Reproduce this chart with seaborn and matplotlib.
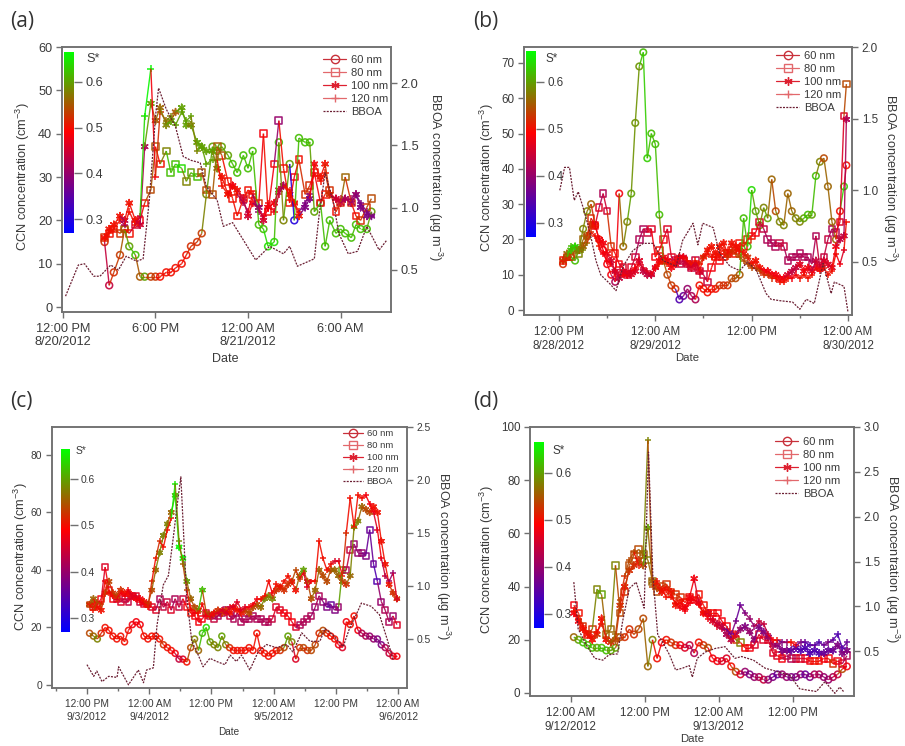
import pandas as pd
import matplotlib.pyplot as plt
import seaborn as sns
from matplotlib.cm import ScalarMappable
from matplotlib.collections import LineCollection
from matplotlib.colors import LinearSegmentedColormap, Normalize
from matplotlib.lines import Line2D

# ---------- panel (a), hours after 12:00 PM 8/20 ----------
hours_a = [2.7,3.0,3.3,3.7,4.0,4.3,4.7,5.0,5.3,5.7,
           6.0,6.3,6.7,7.0,7.3,7.7,8.0,8.3,8.7,9.0,
           9.3,9.7,10.0,10.3,10.7,11.0,11.3,11.7,12.0,12.3,
           12.7,13.0,13.3,13.7,14.0,14.3,14.7,15.0,15.3,15.7,
           16.0,16.3,16.7,17.0,17.3,17.7,18.0,18.3,18.7,19.0,
           19.3,19.7,20.0]
ccn60_a = [15,5,8,12,18,14,12,7,7,7,
           7,7,8,8,9,10,12,14,15,17,
           26,37,36,37,35,33,31,35,32,36,
           19,18,14,15,38,20,33,20,39,38,
           38,22,24,14,20,17,18,17,16,19,
           18,18,22]
s60_a = [52,44,52,53,55,60,62,55,60,53,
         53,50,50,50,50,50,50,52,52,53,
         58,60,60,60,60,62,62,62,62,62,
         62,62,64,64,62,58,60,30,62,62,
         62,60,62,62,62,62,62,62,62,62,
         62,62,60]
ccn80_a = [16,17,18,17,18,17,19,20,24,27,
           37,33,36,31,33,32,29,31,30,31,
           27,26,37,35,29,25,21,25,27,26,
           24,40,22,33,43,32,24,30,34,26,
           28,31,24,26,27,22,24,30,24,21,
           20,23,25]
s80_a = [52,50,50,52,55,50,45,48,50,54,
         55,50,58,62,62,64,58,60,62,55,
         54,54,55,55,50,50,50,50,50,50,
         52,48,50,48,40,50,50,48,50,52,
         52,50,48,50,52,50,52,56,52,50,
         52,52,54]
ccn100_a = [16,18,19,21,20,24,20,19,37,47,
            43,46,42,43,45,46,42,42,38,37,
            36,36,32,30,26,28,27,25,21,24,
            23,20,23,24,27,28,26,24,21,23,
            25,33,30,33,26,25,24,25,24,26,
            23,21,21]
s100_a = [50,50,50,50,42,50,50,45,42,60,
          55,56,58,60,55,60,60,58,60,60,
          60,60,58,50,50,48,50,45,45,48,
          40,45,48,48,45,42,50,50,50,38,
          38,48,50,50,52,45,45,42,42,40,
          38,38,38]
ccn120_a = [16,17,18,20,19,22,19,21,44,55,
            30,45,43,44,42,45,43,44,36,37,
            33,34,34,28,26,28,26,24,22,26,
            22,21,24,22,26,28,27,24,22,24,
            26,31,29,31,26,25,25,25,25,26,
            24,22,21]
s120_a = [50,50,50,50,42,50,50,45,64,66,
          48,52,56,58,60,60,60,60,58,60,
          60,60,58,50,50,48,50,42,42,48,
          40,45,48,48,45,42,50,50,50,38,
          38,48,50,50,52,45,45,42,42,40,
          38,38,38]
bboa_hours_a = [.17,1,1.4,2,2.4,3.1,3.6,4.1,4.8,5.2,
                5.6,6,6.2,6.7,7.3,7.8,8.3,8.9,9.3,10,
                10.4,11,11.7,12.5,13.4,14.3,14.7,15.2,16.3,16.6,
                17,17.5,17.9,18.5,19.1,19.7,20.5,21]
bboa_a = [.29,.54,.55,.45,.45,.54,.50,.61,.57,.59,
          1.06,1.73,1.96,1.79,1.65,1.41,1.38,1.36,1.17,1.06,
          .85,.88,.74,.58,.69,.63,.69,.53,.59,.93,
          1.28,1.06,.79,.63,.65,.85,.66,.74]

# ---------- panel (b), hours after 12:00 PM 8/28 ----------
hours_b = [.5,1,1.5,2,2.5,3,3.5,4,4.5,5,
           5.5,6,6.5,7,7.5,8,8.5,9,9.5,10,
           10.5,11,11.5,12,12.5,13,13.5,14,14.5,15,
           15.5,16,16.5,17,17.5,18,18.5,19,19.5,20,
           20.5,21,21.5,22,22.5,23,23.5,24,24.5,25,
           25.5,26,26.5,27,27.5,28,28.5,29,29.5,30,
           30.5,31,31.5,32,32.5,33,33.5,34,34.5,35,
           35.5,35.8]
ccn60_b = [13,15,15,14,17,23,28,30,24,20,
           17,13,10,8,33,18,25,33,53,69,
           73,43,50,47,27,14,10,7,6,3,
           4,6,4,3,7,6,5,6,6,7,
           7,7,9,9,10,26,18,34,28,24,
           29,26,37,28,25,24,33,28,26,25,
           26,27,27,38,42,43,35,25,20,28,
           35,41]
s60_b = [52,52,58,62,60,58,58,56,52,50,
         48,48,48,42,48,56,58,60,59,59,
         62,63,62,62,62,58,54,53,52,34,
         36,40,42,42,50,50,50,50,50,52,
         52,52,54,54,55,62,62,64,60,60,
         58,60,56,54,58,58,56,56,58,58,
         60,62,60,62,58,54,56,56,56,50,
         63,50]
ccn80_b = [14,15,15,17,16,20,21,26,24,29,
           33,28,18,16,13,12,10,12,15,20,
           23,22,23,15,17,20,23,15,14,13,
           14,13,12,14,11,10,8,12,15,14,
           15,16,17,16,19,18,20,21,22,25,
           23,20,19,18,19,18,14,15,15,16,
           15,15,13,21,12,15,20,23,22,25,
           55,64]
s80_b = [50,50,52,55,58,56,56,52,48,46,
         42,45,52,50,48,46,46,46,45,42,
         42,44,46,48,50,48,46,46,44,44,
         44,44,44,44,45,45,44,48,50,48,
         50,50,50,50,50,50,52,50,48,46,
         44,42,42,42,44,44,42,42,42,42,
         42,42,42,42,44,44,44,42,42,46,
         46,54]
ccn100_b = [14,16,17,18,17,18,21,24,24,20,
            19,16,14,11,9,11,10,10,11,14,
            11,10,10,12,14,15,14,12,13,15,
            15,13,12,13,11,15,17,18,16,18,
            19,16,19,18,17,16,15,13,14,12,
            11,11,10,10,9,9,10,11,12,13,
            11,12,11,14,12,14,13,12,18,20,
            21,54]
s100_b = [54,56,62,62,56,56,54,52,50,48,
          48,48,46,44,44,46,46,46,46,46,
          44,44,44,46,48,48,48,48,48,46,
          46,46,46,46,46,50,50,50,50,50,
          50,50,50,50,50,50,52,50,50,50,
          48,48,48,48,48,48,46,44,44,46,
          48,48,46,44,46,46,46,46,48,44,
          44,42]
ccn120_b = [14,15,18,18,17,17,19,22,21,18,
            16,14,13,11,10,10,10,11,12,13,
            12,11,10,12,13,14,13,13,14,15,
            15,14,13,14,13,15,16,15,15,16,
            17,15,17,16,15,14,13,12,12,11,
            10,10,9,9,8,8,9,9,10,9,
            10,9,10,12,11,12,10,11,16,13,
            17,25]
s120_b = [50,52,62,64,60,58,56,52,50,50,
          48,48,48,46,46,48,48,46,48,48,
          46,46,46,48,50,50,50,50,50,48,
          48,50,50,50,50,52,50,50,50,50,
          50,52,52,52,54,54,54,54,52,54,
          52,52,52,50,50,50,50,48,48,50,
          50,50,50,48,50,50,50,50,50,48,
          46,50]
bboa_hours_b = [.1,.7,1.3,1.9,2.4,3.0,3.8,4.6,5.2,6.3,
                7.1,8,9.2,10.5,11.7,12.95,14.6,15.4,16.7,17.3,
                17.9,19.2,20,21.3,22.5,23.5,24.6,25.8,26.4,27.5,
                29.1,30,30.8,31.8,32.9,33.9,34.3,35.5,36]
bboa_b = [1.0,1.16,1.16,.93,.99,.88,.72,.51,.41,.35,
          .30,.47,.58,.63,.63,.51,.47,.65,.77,.62,
          .77,.74,.56,.47,.44,.5,.44,.28,.24,.23,
          .22,.17,.24,.21,.49,.28,.36,.33,.15]

# ---------- panel (c), hours after 12:00 PM 9/3 ----------
hours_c = [.5,1.25,2,2.75,3.5,4.25,5,5.75,6.5,7.25,
           8,8.75,9.5,10.25,11,11.75,12.5,13.25,14,14.75,
           15.5,16.25,17,17.75,18.5,19.25,20,20.75,21.5,22.25,
           23,23.75,24.5,25.25,26,26.75,27.5,28.25,29,29.75,
           30.5,31.25,32,32.75,33.5,34.25,35,35.75,36.5,37.25,
           38,38.75,39.5,40.25,41,41.75,42.5,43.25,44,44.75,
           45.5,46.25,47,47.75,48.5,49.25,50,50.75,51.5,52.25,
           53,53.75,54.5,55.25,56,56.75,57.5,58.25,59,59.75]
ccn60_c = [18,17,16,18,20,19,17,16,17,15,
           19,21,22,21,17,16,17,17,16,14,
           13,12,11,9,9,8,13,16,12,18,
           20,15,14,13,17,14,13,12,12,12,
           12,13,12,18,12,11,10,11,12,12,
           13,17,15,9,13,13,12,12,14,18,
           19,18,17,16,14,13,22,21,24,19,
           18,17,17,16,16,14,13,11,10,10]
s60_c = [54,56,58,52,50,50,50,50,50,50,
         50,48,48,48,50,50,50,50,50,52,
         50,50,48,44,46,50,54,58,56,62,
         64,60,58,58,60,58,52,50,50,50,
         50,50,50,50,50,50,50,50,50,52,
         54,60,58,46,52,54,52,54,54,52,
         54,52,50,50,48,46,48,50,50,48,
         42,42,40,40,38,38,42,44,46,48]
ccn80_c = [28,27,28,30,41,33,30,30,29,30,
           29,31,31,29,28,28,27,26,30,27,
           29,26,30,27,30,27,25,24,22,23,
           25,24,23,24,25,26,24,23,25,22,
           23,23,24,23,23,22,22,23,27,26,
           25,24,22,20,21,22,23,24,27,31,
           29,27,28,26,27,40,40,47,49,46,
           46,45,54,42,36,29,26,22,24,21]
s80_c = [52,52,50,48,46,48,48,46,46,44,
         44,46,46,44,46,48,46,46,42,44,
         44,46,42,44,44,48,50,48,48,48,
         46,44,44,42,42,42,44,42,42,42,
         42,42,42,42,42,42,42,44,46,46,
         48,48,48,46,42,42,42,42,40,42,
         40,38,36,38,40,60,42,44,40,40,
         40,38,36,36,34,40,42,42,40,46]
ccn100_c = [28,30,27,26,32,36,32,31,33,32,
            32,31,30,30,29,28,33,40,46,52,
            56,60,66,48,44,36,30,27,26,33,
            25,24,25,26,25,26,25,27,26,25,
            26,25,27,28,27,30,31,30,33,34,
            33,35,36,33,38,40,36,30,33,40,
            38,36,40,40,38,36,35,38,55,57,
            62,61,60,62,60,50,42,35,32,30]
s100_c = [54,56,50,50,52,54,52,54,52,50,
          50,48,48,48,50,52,54,56,58,58,
          58,56,62,66,66,60,56,54,56,62,
          54,54,52,52,52,52,50,50,50,50,
          52,54,54,54,56,58,58,58,52,52,
          52,52,52,50,56,60,54,54,56,56,
          54,54,54,56,56,54,52,56,58,58,
          56,54,54,50,50,50,50,50,52,52]
ccn120_c = [28,26,29,28,36,32,31,30,32,31,
            33,31,31,29,28,27,36,44,50,48,
            54,58,70,50,42,33,26,25,25,28,
            24,24,25,25,26,25,27,27,29,26,
            27,27,28,30,30,31,36,32,35,34,
            36,38,36,40,37,39,34,36,36,50,
            44,40,42,43,43,38,53,65,55,66,
            65,66,63,60,54,44,38,36,39,30]
s120_c = [50,50,54,54,50,50,50,52,48,48,
          48,46,46,48,48,50,52,50,52,50,
          50,50,65,58,56,54,50,48,50,50,
          48,48,48,46,46,46,46,46,46,46,
          46,48,48,48,50,50,50,48,50,50,
          50,50,50,54,52,48,46,48,50,50,
          50,50,50,46,46,50,52,50,50,50,
          50,48,48,48,46,48,44,42,40,46]
bboa_hours_c = [0,1.3,1.9,2.9,4.2,5.8,6.1,8,9.9,10.9,
                11.5,12.8,13.5,14.1,14.7,15.7,16.7,17.3,18.1,19.2,
                20.2,21.2,22.4,23.7,25,26.6,27.6,28.8,29.8,31.4,
                33,34.6,36.5,38.5,39.7,41.4,43,44.9,45.9,47.4,
                49.4,50.6,51.9,52.9,54.8,56.4,58,59]
bboa_c = [.26,.15,.2,.1,.15,.14,.24,.07,.21,.09,
          .21,.23,.63,.82,1.01,1.1,1.48,1.73,2.03,.92,
          .48,.38,.24,.32,.29,.26,.35,.29,.35,.21,
          .38,.45,.42,.45,.38,.56,.48,.48,.6,.54,
          .43,.6,.73,.84,.81,.73,.48,.31]

# ---------- panel (d), hours after 12:00 AM 9/12 ----------
hours_d = [.5,1.25,2,2.75,3.5,4.25,5,5.75,6.5,7.25,
           8,8.75,9.5,10.25,11,11.75,12.5,13.25,14,14.75,
           15.5,16.25,17,17.75,18.5,19.25,20,20.75,21.5,22.25,
           23,23.75,24.5,25.25,26,26.75,27.5,28.25,29,29.75,
           30.5,31.25,32,32.75,33.5,34.25,35,35.75,36.5,37.25,
           38,38.75,39.5,40.25,41,41.75,42.5,43.25,44,44.75]
ccn60_d = [21,20,19,18,17,17,17,16,16,17,
           21,21,24,22,24,28,10,20,13,19,
           20,19,18,18,17,18,15,19,18,17,
           13,12,12,13,10,8,7,8,7,6,
           6,5,5,6,7,7,6,6,6,7,
           7,6,7,7,6,5,6,7,9,10]
s60_d = [56,60,62,62,62,60,62,62,60,60,
         54,52,52,52,54,54,56,58,50,48,
         50,52,52,48,46,44,42,50,52,54,
         48,48,46,46,50,54,46,40,38,40,
         42,44,40,38,36,40,40,38,38,40,
         36,38,42,42,40,40,42,44,54,48]
ccn80_d = [33,30,25,22,24,39,37,22,24,48,
           30,38,48,52,54,52,50,42,38,40,
           41,38,37,36,34,36,35,37,33,30,
           30,30,27,25,22,20,19,17,17,18,
           22,20,20,15,14,13,14,13,13,13,
           13,12,12,12,13,13,11,12,11,14]
s80_d = [48,50,52,50,52,58,60,56,56,58,
         54,52,54,54,54,56,58,56,54,54,
         52,52,52,52,50,50,48,50,50,50,
         50,48,48,48,50,52,58,50,48,46,
         46,46,46,46,46,48,44,42,44,46,
         46,48,50,50,48,48,52,48,46,42]
ccn100_d = [30,27,24,22,20,22,28,20,19,20,
            33,40,46,48,50,48,62,42,40,38,
            39,38,33,34,32,36,43,34,30,30,
            27,26,25,22,20,22,24,25,23,20,
            25,23,21,18,18,16,16,16,17,16,
            17,15,16,15,15,16,16,18,15,16]
s100_d = [48,48,50,50,50,52,50,50,52,54,
          52,50,52,52,52,54,60,56,52,50,
          50,50,50,50,48,48,48,46,48,46,
          46,44,44,42,44,46,40,38,40,40,
          38,38,40,42,40,38,38,36,36,34,
          34,34,34,34,36,36,36,38,38,38]
ccn120_d = [31,28,25,22,21,23,26,21,19,22,
            35,44,50,53,48,52,95,40,42,39,
            36,36,34,32,31,34,35,33,30,28,
            28,25,24,24,22,27,33,30,28,25,
            27,26,22,20,20,19,19,19,18,19,
            19,18,18,19,18,19,20,22,17,19]
s120_d = [50,50,50,50,50,50,50,52,54,56,
          54,52,54,54,50,55,58,54,50,50,
          50,50,50,48,48,48,48,48,50,48,
          46,46,44,40,36,38,36,38,40,40,
          44,44,44,48,50,38,40,50,48,38,
          36,34,36,34,36,38,36,34,34,36]
bboa_hours_d = [.5,1.2,2.5,3.9,5.2,6.2,7.6,8.4,9.5,10.6,
                11.9,12.6,13.3,14.1,14.9,16,17,18.1,19.2,19.7,
                20.5,21.8,23.4,25,26.6,27.7,29.6,31.5,33.6,35.5,
                37.1,39.8,41.2,42.8,43.6,44.2]
bboa_d = [1.27,.75,.57,.42,.40,.46,.47,.83,1.2,1.27,
          .98,2.72,1.35,.68,.6,.46,.29,.31,.34,.21,
          .42,.49,.53,.55,.42,.44,.4,.31,.27,.23,
          .08,.05,.16,.03,.10,.05]

sizes = ["60 nm", "80 nm", "100 nm", "120 nm"]
s_ticks = [0.3, 0.4, 0.5, 0.6]

labels_a = ["12:00 PM\n8/20/2012", "6:00 PM", "12:00 AM\n8/21/2012", "6:00 AM"]
labels_b = ["12:00 PM\n8/28/2012", "12:00 AM\n8/29/2012", "12:00 PM", "12:00 AM\n8/30/2012"]
labels_c = ["12:00 PM\n9/3/2012", "12:00 AM\n9/4/2012", "12:00 PM",
            "12:00 AM\n9/5/2012", "12:00 PM", "12:00 AM\n9/6/2012"]
labels_d = ["12:00 AM\n9/12/2012", "12:00 PM", "12:00 AM\n9/13/2012", "12:00 PM"]

W, H = 905, 746
INK = "#3a3a3a"
SPINE = "#707070"
BBOA_COLOR = "#6b1f33"
LABEL_FS = 9.2

sns.set_theme(style="ticks")
plt.rcParams["font.family"] = ["Liberation Sans", "DejaVu Sans"]
plt.rcParams["mathtext.default"] = "regular"

cmap = LinearSegmentedColormap.from_list(
    "sstar", [(0, "#0000ff"), (0.56, "#ff0000"), (1, "#00ff00")])
norm = Normalize(0.27, 0.665)

marker_styles = [("o", True), ("s", True), ((6, 2, 0), False), ("+", False)]
legend_colors = ["#c8303a", "#e2686c", "#dd2030", "#e2686c"]


def px_axes(box):
    # box is left, top, right, bottom in image pixels
    l, t, r, b = box
    return [l / W, 1 - b / H, (r - l) / W, (b - t) / H]


def draw_panel(fig, letter, letter_xy, box, xlim, ylim, rlim, xticks, xlabels, xminor,
               yticks, rticks, hours, ccn, sstar, bboa_hours, bboa,
               cbar_box, s_xy, legend_xy, label_xy, fs, legend_fs, ms):
    ax = fig.add_axes(px_axes(box))
    for i, (values, s_vals) in enumerate(zip(ccn, sstar)):
        df = pd.DataFrame({"t": hours, "ccn": values, "s": [v / 100 for v in s_vals]})
        pts = list(zip(df["t"], df["ccn"]))
        segs = [[pts[k], pts[k + 1]] for k in range(len(pts) - 1)]
        ax.add_collection(LineCollection(segs, colors=cmap(norm(df["s"].values[1:])),
                                         linewidths=1.0, alpha=0.9))
        marker, hollow = marker_styles[i]
        sns.scatterplot(data=df, x="t", y="ccn", hue="s", palette=cmap, hue_norm=norm,
                        marker=marker, s=ms, linewidth=1.15, alpha=0.9, legend=False, ax=ax)
        pc = ax.collections[-1]
        pc.set_edgecolors(pc.get_facecolors())
        if hollow:
            pc.set_facecolors("none")
    ax.set_xlim(*xlim)
    ax.set_ylim(*ylim)
    # two lines of date label sit about 13 px apart in every panel
    ax.set_xticks(xticks, xlabels, linespacing=11.8 / (0.82 * fs * 100 / 72))
    ax.set_xticks(xminor, minor=True)
    ax.set_yticks(yticks)
    ax.tick_params(axis="both", labelsize=fs, colors=INK, color=SPINE, length=4, width=1, pad=3)
    ax.tick_params(axis="x", pad=4)
    ax.tick_params(axis="x", which="minor", length=2, width=1, color=SPINE)

    rax = ax.twinx()
    sns.lineplot(x=bboa_hours, y=bboa, color=BBOA_COLOR, linestyle=(0, (1.6, 1)), linewidth=0.9,
                 errorbar=None, sort=False, ax=rax)
    rax.set_ylim(*rlim)
    rax.set_yticks(rticks, [f"{v:.1f}" for v in rticks])
    rax.tick_params(axis="y", labelsize=fs, colors=INK, color=SPINE, length=4, width=1, pad=3)
    for a in (ax, rax):
        for spine in a.spines.values():
            spine.set_color(SPINE)
            spine.set_linewidth(1.1)

    l, t, r, b = box
    ax.set_xlabel("Date", fontsize=fs - 0.2, color=INK)
    ax.xaxis.set_label_coords((label_xy[0] - l) / (r - l), (b - label_xy[1]) / (b - t), ax.transAxes)
    ax.xaxis.label.set_verticalalignment("center")
    ax.set_ylabel("CCN concentration (cm$^{-3}$)", fontsize=LABEL_FS, color=INK)
    ax.yaxis.set_label_coords((label_xy[2] - l) / (r - l), 0.5 + (0.5 * (t + b) - label_xy[3]) / (b - t),
                              ax.transAxes)
    ax.yaxis.label.set_verticalalignment("center")
    rax.set_ylabel("BBOA concentration (µg m$^{-3}$)", fontsize=LABEL_FS, color=INK, rotation=270)
    rax.yaxis.set_label_coords((label_xy[4] - l) / (r - l), 0.5 + (0.5 * (t + b) - label_xy[5]) / (b - t),
                               ax.transAxes)
    rax.yaxis.label.set_verticalalignment("center")

    handles = [Line2D([], [], color=c, marker=m[0], markersize=6, markerfacecolor="none", linewidth=0.9)
               for c, m in zip(legend_colors, marker_styles)]
    handles.append(Line2D([], [], color=BBOA_COLOR, linestyle=(0, (1.6, 1)), linewidth=0.9))
    rax.legend(handles, sizes + ["BBOA"], loc="upper left", frameon=False, fontsize=legend_fs,
               bbox_to_anchor=((legend_xy[0] - l) / (r - l), (b - legend_xy[1]) / (b - t)),
               borderpad=0, borderaxespad=0, labelspacing=2.17 / legend_fs, handlelength=2.1,
               handletextpad=0.4, labelcolor=INK)

    cax = fig.add_axes(px_axes(cbar_box))
    cb = fig.colorbar(ScalarMappable(norm=norm, cmap=cmap), cax=cax, ticks=s_ticks)
    cb.outline.set_visible(False)
    cb.ax.tick_params(labelsize=fs, colors=INK, color=SPINE, length=6, width=1, pad=2)
    cb.ax.set_yticklabels([f"{v:.1f}" for v in s_ticks])
    fig.text(s_xy[0] / W, 1 - s_xy[1] / H, "S*", fontsize=fs, color=INK, va="center")
    fig.text(letter_xy[0] / W, 1 - letter_xy[1] / H, letter, fontsize=15, color="#333333",
             family="Open Sans", va="center")


fig = plt.figure(figsize=(W / 100, H / 100), dpi=100, facecolor="white")

draw_panel(fig, "(a)", (10, 21), (62, 47, 391, 312), (-0.06, 21.27), (-1.15, 60), (0.163, 2.289),
           [0, 6, 12, 18], labels_a, [], [0, 10, 20, 30, 40, 50, 60], [0.5, 1.0, 1.5, 2.0],
           hours_a, [ccn60_a, ccn80_a, ccn100_a, ccn120_a], [s60_a, s80_a, s100_a, s120_a],
           bboa_hours_a, bboa_a, (64, 52, 74, 233), (86, 59), (323, 55),
           (225, 359, 23, 177, 435, 177), 9.2, 8, 24)
draw_panel(fig, "(b)", (473, 21), (524, 47, 852, 315), (-4.36, 36.5), (-1.4, 74.5), (0.13, 2.0),
           [0, 12, 24, 36], labels_b, [6, 18, 30], [0, 10, 20, 30, 40, 50, 60, 70],
           [0.5, 1.0, 1.5, 2.0],
           hours_b, [ccn60_b, ccn80_b, ccn100_b, ccn120_b], [s60_b, s80_b, s100_b, s120_b],
           bboa_hours_b, bboa_b, (526, 51, 536, 237), (545, 59), (776, 51),
           (687, 358, 487, 178, 890, 178), 8.4, 8, 22)
draw_panel(fig, "(c)", (10, 401), (52, 427, 407, 688), (-6.74, 61.7), (-1.04, 89.7), (0.04, 2.5),
           [0, 12, 24, 36, 48, 60], labels_c, [-6, 6, 18, 30, 42, 54], [0, 20, 40, 60, 80],
           [0.5, 1.0, 1.5, 2.0, 2.5],
           hours_c, [ccn60_c, ccn80_c, ccn100_c, ccn120_c], [s60_c, s80_c, s100_c, s120_c],
           bboa_hours_c, bboa_c, (61, 449, 70, 632), (76, 451), (343, 429),
           (229, 732, 21, 557, 443, 556), 7.4, 6.8, 18)
draw_panel(fig, "(d)", (473, 401), (530, 427, 854, 696), (-6.6, 45.9), (-1.13, 100), (0.0, 3.0),
           [0, 12, 24, 36], labels_d, [], [0, 20, 40, 60, 80, 100],
           [0.5, 1.0, 1.5, 2.0, 2.5, 3.0],
           hours_d, [ccn60_d, ccn80_d, ccn100_d, ccn120_d], [s60_d, s80_d, s100_d, s120_d],
           bboa_hours_d, bboa_d, (534, 442, 544, 628), (552, 451), (775, 437),
           (692, 739, 487, 560, 892, 559), 8.4, 8, 22)

plt.savefig("out.png", dpi=100)
plt.close()
